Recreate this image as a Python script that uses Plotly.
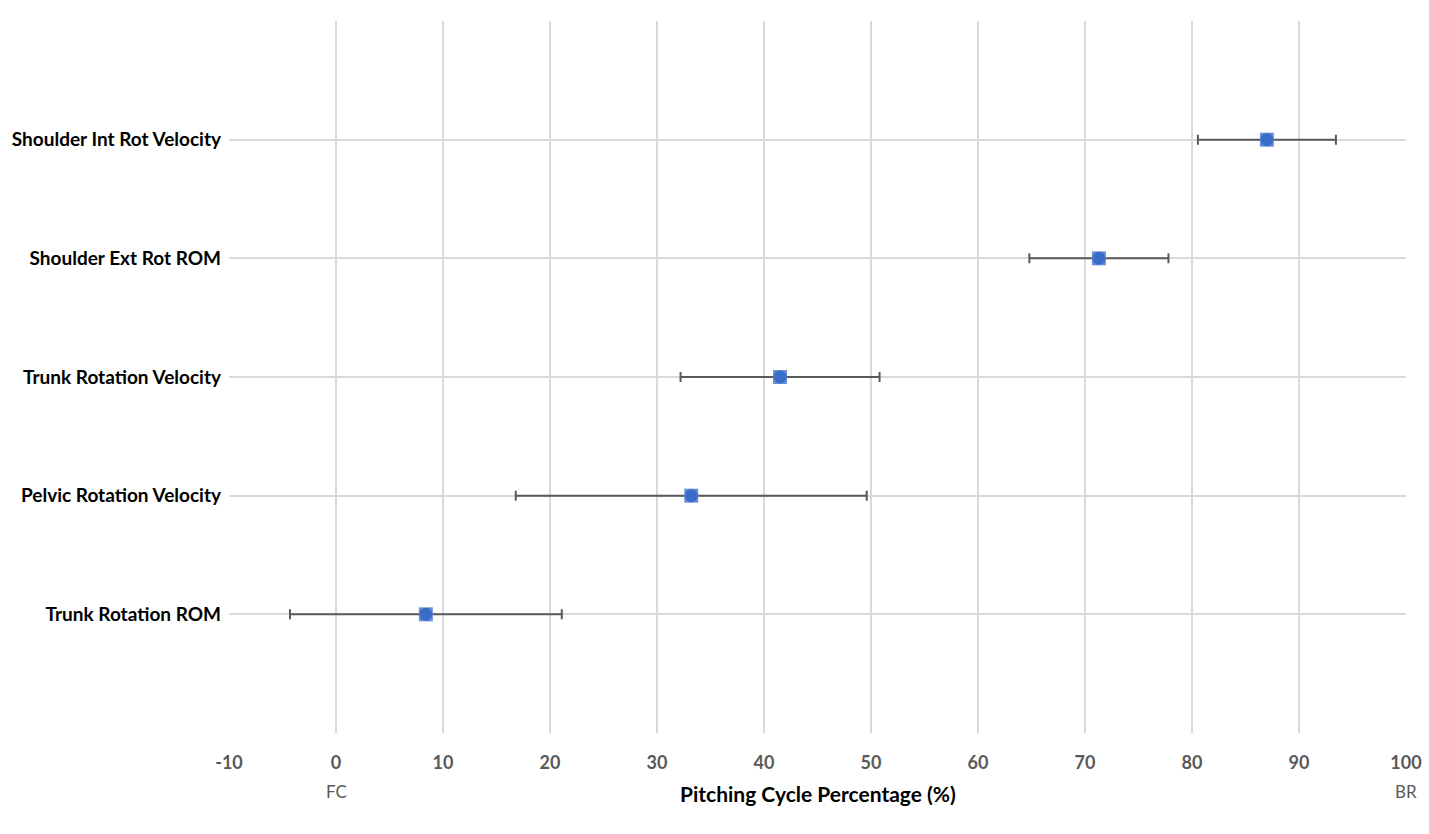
import plotly.graph_objects as go

categories = ["Trunk Rotation ROM", "Pelvic Rotation Velocity", "Trunk Rotation Velocity",
              "Shoulder Ext Rot ROM", "Shoulder Int Rot Velocity"]
positions = [1, 2, 3, 4, 5]
means = [8.4, 33.2, 41.5, 71.3, 87.0]
sd = [12.7, 16.4, 9.3, 6.5, 6.45]
x_ticks = list(range(-10, 101, 10))
x_tick_text = ["-10", "0", "10", "20", "30", "40", "50", "60", "70", "80", "90", "100"]

fig = go.Figure()
fig.add_trace(go.Scatter(
    x=means, y=positions, mode="markers",
    marker=dict(symbol="square", size=14, color="#6A90D6", line=dict(width=0)),
    error_x=dict(type="data", array=sd, symmetric=True, color="#595959", thickness=2, width=5),
    hoverinfo="skip", showlegend=False))
fig.add_trace(go.Scatter(
    x=means, y=positions, mode="markers",
    marker=dict(symbol="circle", size=13, color="#3A6CC9", line=dict(width=0)),
    showlegend=False))

fig.update_layout(
    width=1429, height=834,
    margin=dict(l=229, r=23, t=21, b=101),
    paper_bgcolor="white", plot_bgcolor="white",
    font=dict(family="Lato, Open Sans, sans-serif"),
    xaxis=dict(range=[-10, 100], tickvals=x_ticks, ticktext=x_tick_text,
               showgrid=True, gridcolor="#D9D9D9", automargin=False,
               gridwidth=2, zeroline=False, showline=False, ticks="",
               tickfont=dict(size=18, color="#595959", family="Lato, sans-serif", weight="bold"),
               ticklabelstandoff=17),
    yaxis=dict(range=[0, 6], tickvals=[0, 1, 2, 3, 4, 5, 6],
               ticktext=[""] + categories + [""], automargin=False,
               showgrid=True, gridcolor="#D9D9D9", gridwidth=2, zeroline=False,
               showline=False, ticks="", ticklabelstandoff=7,
               tickfont=dict(size=19, color="#000000", family="Lato, sans-serif", weight="bold")),
)

fig.add_annotation(x=0, y=0, xref="x", yref="paper", yshift=-58, text="FC", showarrow=False,
                   yanchor="middle", font=dict(size=17, color="#595959"))
fig.add_annotation(x=100, y=0, xref="x", yref="paper", yshift=-58, text="BR", showarrow=False,
                   yanchor="middle", font=dict(size=17, color="#595959"))
fig.add_annotation(x=0.5, y=0, xref="paper", yref="paper", yshift=-60,
                   text="<b>Pitching Cycle Percentage (%)</b>", yanchor="middle",
                   showarrow=False, font=dict(size=21, color="#000000"))

fig.write_html("out.html")
